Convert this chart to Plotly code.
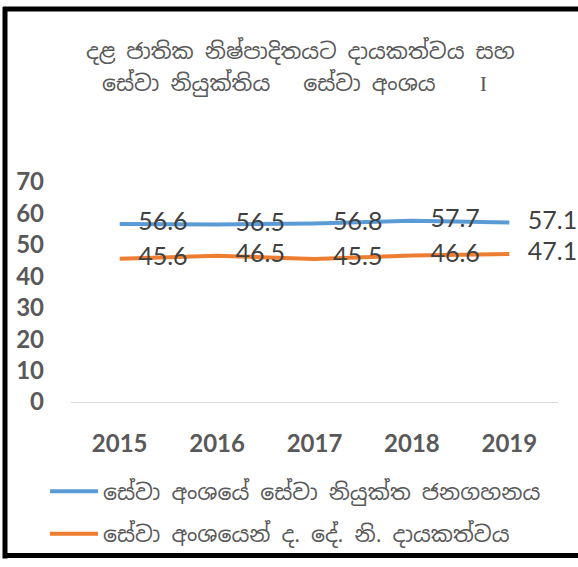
import plotly.graph_objects as go

# --- data ---
years = ["2015", "2016", "2017", "2018", "2019"]
employment = [56.6, 56.5, 56.8, 57.7, 57.1]
gdp_share = [45.6, 46.5, 45.5, 46.6, 47.1]
y_ticks = [0, 10, 20, 30, 40, 50, 60, 70]

title_l1 = "දළ ජාතික නිෂ්පාදිතයට දායකත්වය සහ"
title_l2 = ("සේවා නියුක්තිය\u00a0\u00a0\u00a0සේවා අංශය\u00a0\u00a0\u00a0\u00a0"
            "<span style='font-family:Liberation Serif, serif'>I</span>")
name_emp = "සේවා අංශයේ සේවා නියුක්ත ජනගහනය"
name_gdp = "සේවා අංශයෙන් ද. දේ. නි. දායකත්වය"

W, H = 578, 567
L, R, T, B = 71, 20, 182, 160
PW, PH = W - L - R, H - T - B


def px(x):
    return (x - L) / PW


def py(y):
    return (H - B - y) / PH


NUM_FONT = "Lato, Carlito, 'Liberation Sans', sans-serif"
SIN_FONT = "'Noto Sans Sinhala', 'Noto Sans', sans-serif"

fig = go.Figure()
for name, vals, color in [(name_emp, employment, "#5B9BD5"),
                          (name_gdp, gdp_share, "#ED7D31")]:
    fig.add_trace(go.Scatter(
        x=years, y=vals, name=name, legendgroup=name,
        mode="lines+markers+text", cliponaxis=False,
        line=dict(color=color, width=4),
        marker=dict(size=28, color="rgba(0,0,0,0)"),
        text=[f"{v:.1f}" for v in vals], textposition="middle right",
        textfont=dict(family=NUM_FONT, size=25, color="#404040"),
    ))

# title, two lines
fig.add_annotation(x=px(300), y=py(48), xref="paper", yref="paper", text=title_l1,
                   xanchor="center", yanchor="middle", showarrow=False,
                   font=dict(family=SIN_FONT, size=22, color="#595959"))
fig.add_annotation(x=px(294), y=py(80), xref="paper", yref="paper", text=title_l2,
                   xanchor="center", yanchor="middle", showarrow=False,
                   font=dict(family=SIN_FONT, size=22, color="#595959"))

# black frame (top, left, bottom)
frame = dict(color="black", width=5)
fig.add_shape(type="line", xref="paper", yref="paper", x0=px(3), x1=px(W), y0=py(5), y1=py(5), line=frame)
fig.add_shape(type="line", xref="paper", yref="paper", x0=px(5), x1=px(5), y0=py(3), y1=py(H), line=frame)
fig.add_shape(type="line", xref="paper", yref="paper", x0=px(3), x1=px(W), y0=py(564), y1=py(564), line=frame)

fig.update_layout(
    width=W, height=H,
    margin=dict(l=L, r=R, t=T, b=B),
    paper_bgcolor="white", plot_bgcolor="white",
    showlegend=True,
    legend=dict(x=px(45), y=py(477), xanchor="left", yanchor="top",
                traceorder="grouped", tracegroupgap=11, itemwidth=48,
                font=dict(family=SIN_FONT, size=22, color="#595959"),
                bgcolor="rgba(0,0,0,0)"),
    xaxis=dict(type="category", range=[-0.5, 4.5], showgrid=False, zeroline=False,
               showline=True, linecolor="#D9D9D9", linewidth=1, ticks="",
               ticklabelstandoff=20,
               tickfont=dict(family=NUM_FONT, size=24, color="#595959", weight="bold")),
    yaxis=dict(range=[0, 70], tickvals=y_ticks, showgrid=False, zeroline=False,
               showline=False, ticks="", ticklabelstandoff=26,
               tickfont=dict(family=NUM_FONT, size=24, color="#595959", weight="bold")),
)

fig.write_html("out.html", config={"displayModeBar": False},
               post_script="document.body.style.margin='0';")
